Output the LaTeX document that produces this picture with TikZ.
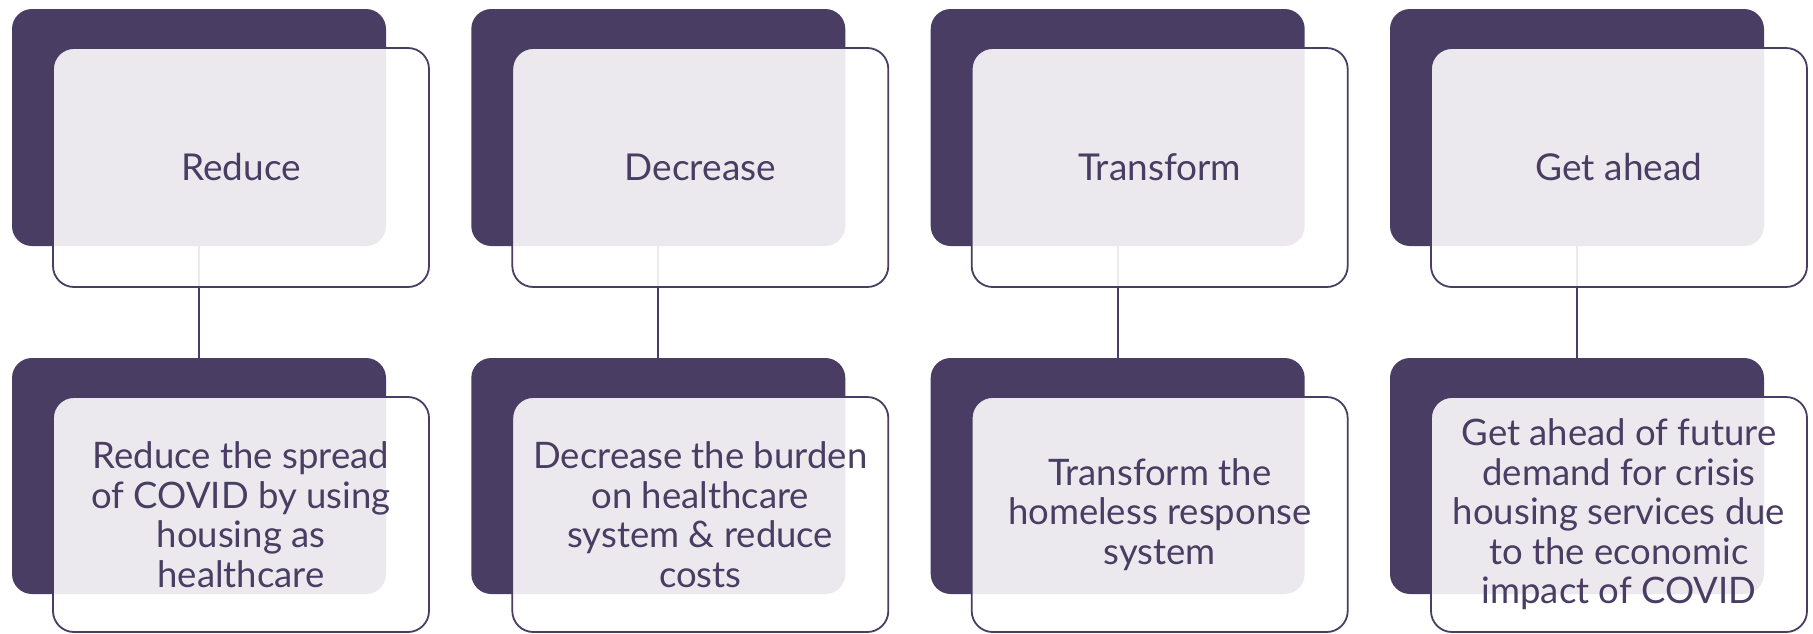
\documentclass[tikz,border=0pt]{standalone}
\usepackage{fontspec}
\setmainfont{Lato}
\definecolor{plum}{HTML}{4A3D63}
\tikzset{
  darkbox/.style={fill=plum, draw=none, rounded corners=20pt, minimum width=374pt, inner sep=0pt},
  outbox/.style={fill=white, fill opacity=0.89, text opacity=1, draw=plum, line width=1.8pt, rounded corners=21pt, minimum width=376pt, inner sep=0pt, align=center, text=plum},
  topbox/.style={minimum height=237pt},
  topout/.style={minimum height=239pt, font=\fontsize{37}{44}\selectfont},
  botbox/.style={minimum height=236pt},
  botout/.style={minimum height=235pt, font=\fontsize{36.5}{39.5}\selectfont},
  link/.style={draw=plum, line width=1.8pt}
}
\begin{document}
\begin{tikzpicture}[x=1pt,y=-1pt]
\useasboundingbox (0,0) rectangle (1813,633);
% ---- dark boxes (top and bottom) ----
\node[darkbox,topbox] (d1) at (199,127.5) {};
\node[darkbox,topbox] (d2) at (658.3,127.5) {};
\node[darkbox,topbox] (d3) at (1117.7,127.5) {};
\node[darkbox,topbox] (d4) at (1577,127.5) {};
\node[darkbox,botbox] (b1) at (199,476) {};
\node[darkbox,botbox] (b2) at (658.3,476) {};
\node[darkbox,botbox] (b3) at (1117.7,476) {};
\node[darkbox,botbox] (b4) at (1577,476) {};
% ---- connectors (behind the outline boxes) ----
\draw[link] (d1.south) -- (b1.north);
\draw[link] (d2.south) -- (b2.north);
\draw[link] (d3.south) -- (b3.north);
\draw[link] (d4.south) -- (b4.north);
% ---- outline boxes with text ----
\node[outbox,topout] (t1) at (241,167.5) {Reduce};
\node[outbox,topout] (t2) at (700.3,167.5) {Decrease};
\node[outbox,topout] (t3) at (1159.7,167.5) {Transform};
\node[outbox,topout] (t4) at (1619,167.5) {Get ahead};
\node[outbox,botout] (s1) at (241,514.5) {Reduce the spread\\of COVID by using\\housing as\\healthcare};
\node[outbox,botout] (s2) at (700.3,514.5) {Decrease the burden\\on healthcare\\system \& reduce\\costs};
\node[outbox,botout] (s3) at (1159.7,514.5) {Transform the\\homeless response\\system};
\node[outbox,botout] (s4) at (1619,514.5) {Get ahead of future\\demand for crisis\\housing services due\\to the economic\\impact of COVID};
\end{tikzpicture}
\end{document}
